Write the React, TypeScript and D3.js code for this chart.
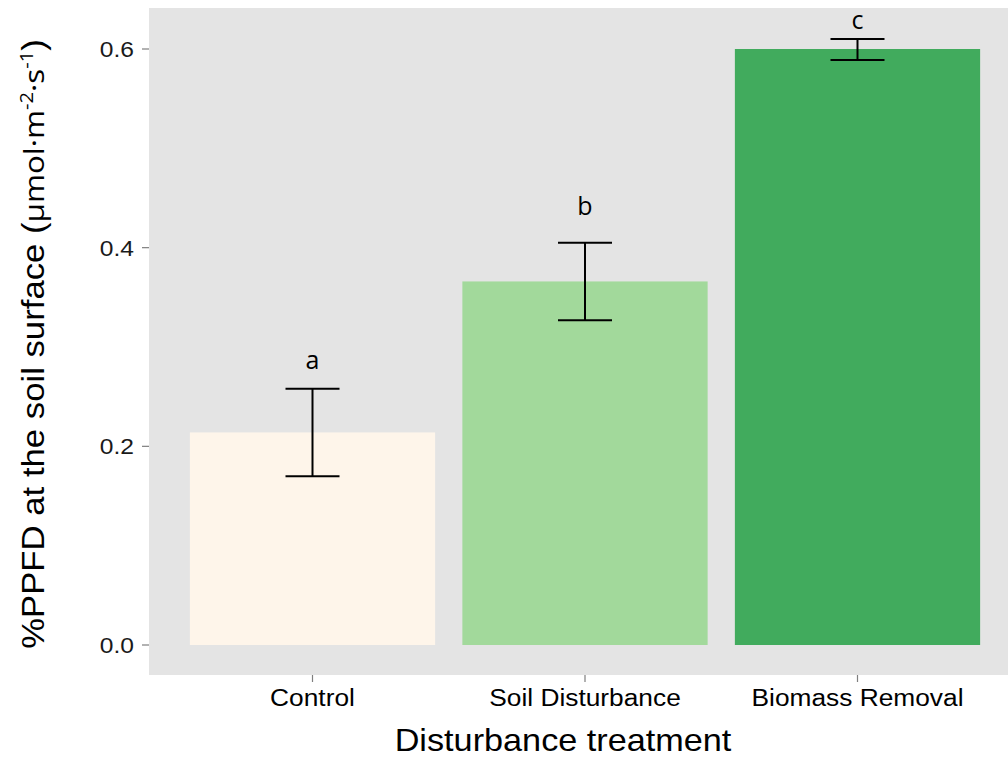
import React, { useEffect, useRef } from 'react';
import * as d3 from 'd3';

const categories = ['Control', 'Soil Disturbance', 'Biomass Removal'];
const means = [0.214, 0.366, 0.6];
const lower = [0.17, 0.327, 0.589];
const upper = [0.258, 0.405, 0.61];
const letters = ['a', 'b', 'c'];
const letterPos = [0.278, 0.433, 0.62];
const yTicks = [0.0, 0.2, 0.4, 0.6];
const colors = ['#FEF5EA', '#A2D99B', '#41AB5D'];

const App = () => {
  const ref = useRef(null);

  useEffect(() => {
    const svg = d3.select(ref.current);
    svg.selectAll('*').remove();

    const left = 149, top = 8, bottom = 675;
    const step = 272.5;
    const sx = 1.12; // the reference text is a bit wide
    const helv = '"Liberation Sans", Arial, sans-serif';

    const y = d3.scaleLinear().domain([0, 0.6]).range([645, 49]);
    const x = d3.scaleLinear().domain([1, 2]).range([312.5, 585]);

    svg.append('rect')
      .attr('x', left).attr('y', top)
      .attr('width', 1008 - left).attr('height', bottom - top)
      .attr('fill', '#E4E4E4');

    // bars
    svg.selectAll('.bar')
      .data(categories)
      .enter()
      .append('rect')
      .attr('x', (d, i) => x(i + 1) - step * 0.45)
      .attr('width', step * 0.9)
      .attr('y', (d, i) => y(means[i]))
      .attr('height', (d, i) => y(0) - y(means[i]))
      .attr('fill', (d, i) => colors[i]);

    // error bars
    const eb = svg.selectAll('.err').data(categories).enter().append('g')
      .attr('stroke', '#000').attr('stroke-width', 2);
    eb.append('line')
      .attr('x1', (d, i) => x(i + 1)).attr('x2', (d, i) => x(i + 1))
      .attr('y1', (d, i) => y(lower[i])).attr('y2', (d, i) => y(upper[i]));
    eb.append('line')
      .attr('x1', (d, i) => x(i + 1) - 27).attr('x2', (d, i) => x(i + 1) + 27)
      .attr('y1', (d, i) => y(lower[i])).attr('y2', (d, i) => y(lower[i]));
    eb.append('line')
      .attr('x1', (d, i) => x(i + 1) - 27).attr('x2', (d, i) => x(i + 1) + 27)
      .attr('y1', (d, i) => y(upper[i])).attr('y2', (d, i) => y(upper[i]));

    // significance letters
    svg.selectAll('.lt').data(letters).enter().append('text')
      .attr('x', (d, i) => x(i + 1))
      .attr('y', (d, i) => y(letterPos[i]))
      .attr('text-anchor', 'middle')
      .attr('font-family', '"Open Sans", sans-serif')
      .attr('font-size', 25)
      .attr('fill', '#000')
      .text(d => d);

    // y axis
    const ya = svg.append('g');
    ya.selectAll('line').data(yTicks).enter().append('line')
      .attr('x1', left - 7).attr('x2', left)
      .attr('y1', d => y(d)).attr('y2', d => y(d))
      .attr('stroke', '#7f7f7f').attr('stroke-width', 1.2);
    ya.selectAll('text').data(yTicks).enter().append('text')
      .attr('transform', d => `translate(134,${y(d) + 8}) scale(${sx},1)`)
      .attr('text-anchor', 'end')
      .attr('font-family', helv)
      .attr('font-size', 22)
      .attr('fill', '#1a1a1a')
      .text(d => d3.format('.1f')(d));

    // x axis
    const xa = svg.append('g');
    xa.selectAll('line').data(categories).enter().append('line')
      .attr('x1', (d, i) => x(i + 1)).attr('x2', (d, i) => x(i + 1))
      .attr('y1', bottom).attr('y2', bottom + 7)
      .attr('stroke', '#7f7f7f').attr('stroke-width', 1.2);
    xa.selectAll('text').data(categories).enter().append('text')
      .attr('transform', (d, i) => `translate(${x(i + 1)},706) scale(${sx},1)`)
      .attr('text-anchor', 'middle')
      .attr('font-family', helv)
      .attr('font-size', 23.5)
      .attr('fill', '#000')
      .text(d => d);

    svg.append('text')
      .attr('transform', `translate(563,751) scale(1.07,1)`)
      .attr('text-anchor', 'middle')
      .attr('font-family', helv)
      .attr('font-size', 32)
      .attr('fill', '#000')
      .text('Disturbance treatment');

    const yt = svg.append('text')
      .attr('transform', `translate(44,344) rotate(-90) scale(${sx},1)`)
      .attr('text-anchor', 'middle')
      .attr('font-family', helv)
      .attr('font-size', 31)
      .attr('fill', '#000');
    yt.append('tspan').text('%PPFD at the soil surface (');
    const unit = '"Open Sans", sans-serif';
    yt.append('tspan').attr('font-family', unit).attr('font-size', 28).text('µmol·m');
    yt.append('tspan').attr('font-family', unit).attr('font-size', 18).attr('dy', -11).text('-2');
    yt.append('tspan').attr('font-family', unit).attr('font-size', 28).attr('dy', 11).text('·s');
    yt.append('tspan').attr('font-family', unit).attr('font-size', 18).attr('dy', -11).text('-1');
    yt.append('tspan').attr('dy', 11).text(')');
  }, []);

  return (
    <svg ref={ref} width={1008} height={757}
      style={{ position: 'absolute', left: 0, top: 0 }} />
  );
};

export default App;
